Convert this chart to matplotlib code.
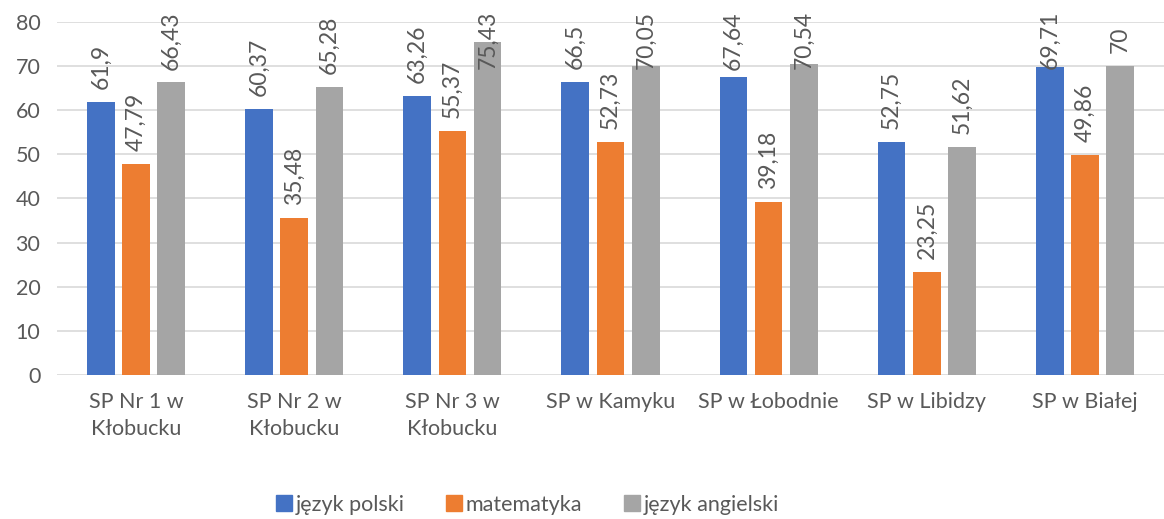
import numpy as np
from matplotlib import pyplot as plt
from matplotlib.lines import Line2D

plt.rcParams['font.family'] = ['Lato', 'DejaVu Sans']

# -------------------------------------------------------------------------------
# data

schools = ['SP Nr 1 w\nKłobucku', 'SP Nr 2 w\nKłobucku', 'SP Nr 3 w\nKłobucku',
           'SP w Kamyku', 'SP w Łobodnie', 'SP w Libidzy', 'SP w Białej']
polski    = [61.9, 60.37, 63.26, 66.5, 67.64, 52.75, 69.71]
matma     = [47.79, 35.48, 55.37, 52.73, 39.18, 23.25, 49.86]
angielski = [66.43, 65.28, 75.43, 70.05, 70.54, 51.62, 70]

series = ['język polski', 'matematyka', 'język angielski']
colors = ['#4472C4', '#ED7D31', '#A5A5A5']
text_col = '#595959'

# -------------------------------------------------------------------------------
# plot

fig = plt.figure(figsize=(11.64, 5.19), dpi=100)
ax = fig.add_axes([57/1164, 144/519, 1107/1164, 353/519])

x = np.arange(len(schools))
w = 0.175
step = 0.223
off = 13

labels = []
for i, (vals, col) in enumerate(zip([polski, matma, angielski], colors)):
    pos = x + (i - 1) * step
    ax.bar(pos, vals, width=w, color=col, zorder=2)
    for p, v in zip(pos, vals):
        txt = str(v).replace('.', ',')
        t = ax.annotate(txt, (p, v), xytext=(0, off), textcoords='offset pixels',
                        rotation=90, ha='center', va='bottom', fontsize=16.5,
                        color=text_col, annotation_clip=False)
        labels.append(t)

ax.set_xlim(-0.5, len(schools) - 0.5)
ax.set_ylim(0, 80)
ax.set_yticks(range(0, 81, 10))
ax.set_xticks(x)
ax.set_xticklabels(schools, linespacing=1.45)
ax.tick_params(axis='both', length=0, labelsize=15.5, colors=text_col)
ax.tick_params(axis='x', pad=12)
ax.tick_params(axis='y', pad=12)
ax.grid(axis='y', color='#D9D9D9', linewidth=1.2, zorder=0)
for s in ax.spines.values():
    s.set_visible(False)

# labels that would poke out above the chart get pushed down (like Excel)
fig.canvas.draw()
r = fig.canvas.get_renderer()
top_px = 519 - 11
for t in labels:
    bb = t.get_window_extent(r)
    if bb.y1 > top_px:
        t.set_position((0, off - (bb.y1 - top_px)))

handles = [Line2D([], [], marker='s', linestyle='', color=c, markersize=12) for c in colors]
leg = fig.legend(handles, series, loc='center', bbox_to_anchor=(0.452, 14/519),
                 ncol=3, frameon=False, fontsize=15.5, handletextpad=0.05,
                 columnspacing=1.8, handlelength=1.0)
for t in leg.get_texts():
    t.set_color(text_col)

fig.savefig('out.png', dpi=100)
